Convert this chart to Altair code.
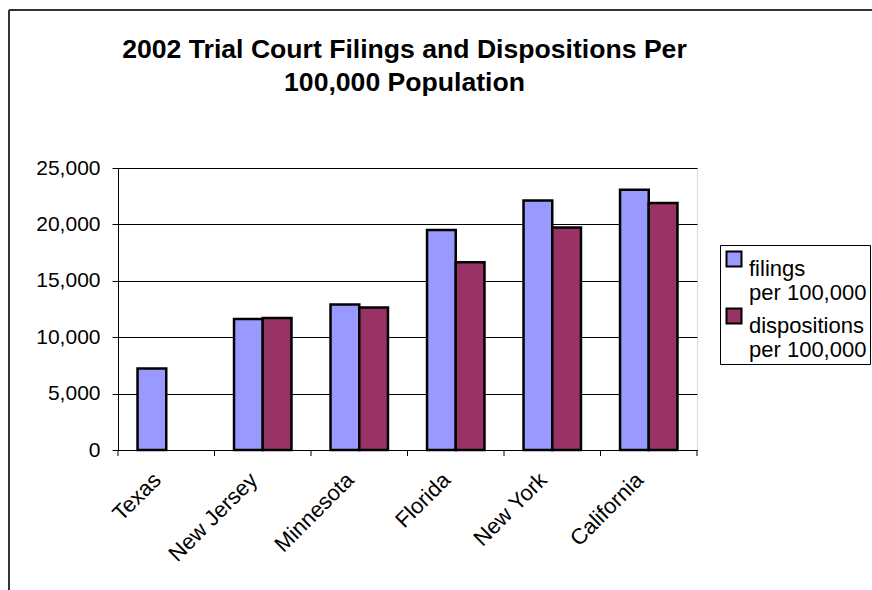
import altair as alt
import pandas as pd

# 2002 trial court filings and dispositions per 100,000 population
states = ["Texas", "New Jersey", "Minnesota", "Florida", "New York", "California"]
filings = [7230, 11620, 12890, 19500, 22120, 23070]
dispositions = [None, 11710, 12630, 16640, 19730, 21890]
series = ["filings per 100,000", "dispositions per 100,000"]
colors = ["#9999FF", "#993366"]

rows = []
for i, st in enumerate(states):
    rows.append({"state": st, "series": series[0], "value": filings[i]})
    if dispositions[i] is not None:
        rows.append({"state": st, "series": series[1], "value": dispositions[i]})
df = pd.DataFrame(rows)
states_df = pd.DataFrame({"state": states})

FONT = "Liberation Sans"
FS = 21
W, H = 579, 282
PAD_L, PAD_T = 118, 168

x_enc = alt.X(
    "state:N",
    sort=states,
    scale=alt.Scale(paddingInner=0, paddingOuter=0),
    axis=alt.Axis(
        title=None, ticks=False, domain=True, domainColor="black", domainWidth=1,
        labelAngle=-45, labelAlign="right", labelBaseline="middle",
        labelFont=FONT, labelFontSize=22, labelColor="black",
        labelPadding=26, labelOffset=-9,
    ),
)

bars = alt.Chart(df).mark_bar(stroke="black", strokeWidth=2.5).encode(
    x=x_enc,
    xOffset=alt.XOffset("series:N", sort=series,
                        scale=alt.Scale(paddingInner=0, paddingOuter=0.68)),
    y=alt.Y(
        "value:Q",
        scale=alt.Scale(domain=[0, 25000], nice=False),
        axis=alt.Axis(
            title=None, values=[0, 5000, 10000, 15000, 20000, 25000], format=",.0f",
            grid=True, gridColor="black", gridWidth=1, gridOpacity=1,
            domainColor="black", tickColor="black", tickSize=6,
            labelFont=FONT, labelFontSize=FS, labelColor="black", labelPadding=12,
        ),
    ),
    color=alt.Color(
        "series:N", sort=series,
        scale=alt.Scale(domain=series, range=colors),
        legend=alt.Legend(
            title=None, orient="none", legendX=602, legendY=77,
            symbolType="square", symbolSize=225, symbolStrokeColor="black",
            symbolStrokeWidth=2, symbolOpacity=1,
            labelFont=FONT, labelFontSize=22, labelColor="black",
            labelExpr="[split(datum.label, ' ')[0], 'per 100,000']",
            labelLimit=200, labelBaseline="top", labelOffset=4,
            rowPadding=0, padding=3, strokeColor="black", fillColor="white",
        ),
    ),
)

# category boundary ticks under the x axis
tick_start = alt.Chart(states_df).mark_rule(color="black", strokeWidth=1).encode(
    x=alt.X("state:N", sort=states, bandPosition=0),
    y=alt.value(H),
    y2=alt.value(H + 6),
)
tick_end = alt.Chart(states_df).transform_filter(
    alt.datum.state == states[-1]
).mark_rule(color="black", strokeWidth=1).encode(
    x=alt.X("state:N", sort=states, bandPosition=1),
    y=alt.value(H),
    y2=alt.value(H + 6),
)

# outer chart frame
frame_left = alt.Chart(states_df).mark_rule(color="#333333", strokeWidth=2).encode(
    x=alt.value(-109), y=alt.value(-158), y2=alt.value(H + 160)
)
frame_top = alt.Chart(states_df).mark_rule(color="#333333", strokeWidth=2).encode(
    x=alt.value(-109), x2=alt.value(W + 200), y=alt.value(-158)
)

chart = alt.layer(bars, tick_start, tick_end, frame_left, frame_top).properties(
    width=W,
    height=H,
    padding={"left": PAD_L, "top": PAD_T,
             "right": 872 - PAD_L - W, "bottom": 590 - PAD_T - H},
    autosize=alt.AutoSizeParams(type="none"),
    title=alt.TitleParams(
        ["2002 Trial Court Filings and Dispositions Per", "100,000 Population"],
        font=FONT, fontSize=26.6, fontWeight="bold", color="black",
        anchor="middle", frame="group", dx=-3, offset=0, dy=88, lineHeight=33,
    ),
).configure_view(
    fill="#C0C0C0", stroke="#808080", strokeWidth=2
).configure(background="white")

chart.save("out.html", embed_options={"renderer": "svg", "actions": False})
